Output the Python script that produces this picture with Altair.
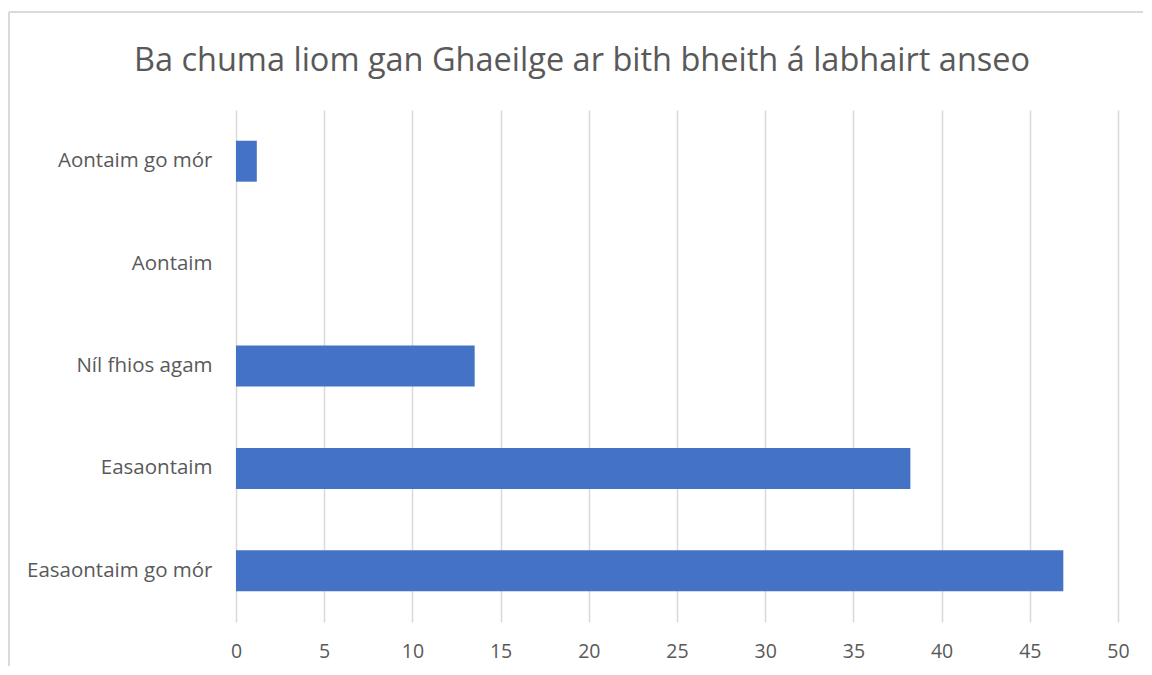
import altair as alt
import pandas as pd

categories = ["Aontaim go mór", "Aontaim", "Níl fhios agam", "Easaontaim", "Easaontaim go mór"]
values = [1.18, 0, 13.53, 38.23, 46.9]
x_ticks = [0, 5, 10, 15, 20, 25, 30, 35, 40, 45, 50]

df = pd.DataFrame({"cat": categories, "val": values})

W, H = 882, 512
FONT = "Open Sans"
GREY = "#595959"

bars = alt.Chart(df).mark_bar(color="#4472C4").encode(
    x=alt.X("val:Q", scale=alt.Scale(domain=[0, 50], nice=False),
            axis=alt.Axis(values=x_ticks, title=None, domain=False, ticks=False,
                          grid=True, gridColor="#d9d9d9", gridWidth=1.5,
                          labelFont=FONT, labelFontSize=19.5, labelColor=GREY,
                          labelPadding=20, labelFlush=False)),
    y=alt.Y("cat:N", sort=categories,
            scale=alt.Scale(paddingInner=0.6, paddingOuter=0.3),
            axis=alt.Axis(title=None, domain=False, ticks=False, grid=False,
                          labelFont=FONT, labelFontSize=20.5, labelColor=GREY,
                          labelPadding=24, minExtent=228, maxExtent=228,
                          labelLimit=300)),
)

border_top = alt.Chart(df).mark_rule(color="#d9d9d9", strokeWidth=2).encode(
    x=alt.value(-227), x2=alt.value(1143 - 236), y=alt.value(-98))
border_left = alt.Chart(df).mark_rule(color="#d9d9d9", strokeWidth=2).encode(
    x=alt.value(-227), y=alt.value(-98), y2=alt.value(666 - 110))

chart = alt.layer(border_top, border_left, bars).properties(
    width=W, height=H,
    padding={"left": 0, "top": 3, "right": 0, "bottom": 0},
    title=alt.TitleParams("Ba chuma liom gan Ghaeilge ar bith bheith á labhairt anseo",
                          font=FONT, fontSize=32.5, fontWeight="normal", color=GREY,
                          anchor="middle", frame="group", dx=-95, offset=-66),
).configure_view(stroke=None)

chart.save("out.html", embed_options={"renderer": "svg", "actions": False})
